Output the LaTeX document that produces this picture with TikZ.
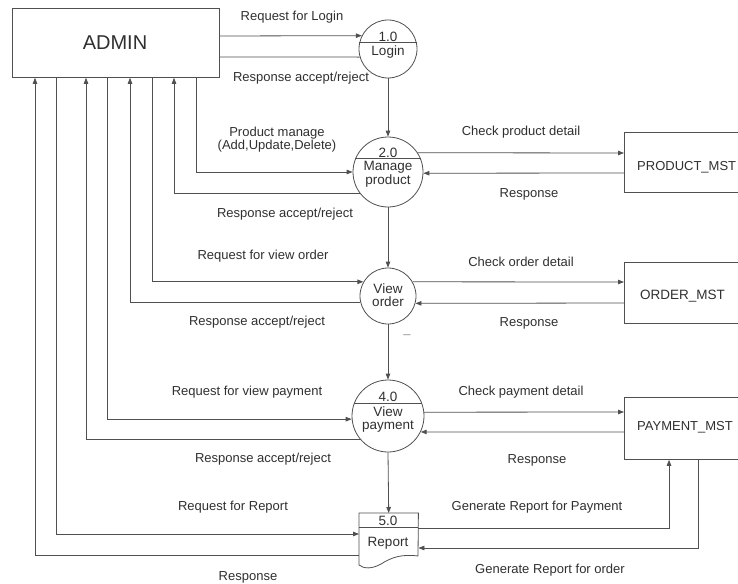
\documentclass[tikz,border=0pt]{standalone}
\usepackage{fontspec}
\setmainfont{Liberation Sans}
\usetikzlibrary{arrows.meta}
\definecolor{ln}{HTML}{505050}
\definecolor{tx}{HTML}{303030}
\tikzset{
  every node/.style={text=tx},
  flow/.style={draw=ln, line width=0.8pt},
  arr/.style={flow, -{Triangle[length=6pt,width=4.5pt]}},
  lbl/.style={font=\fontsize{13}{15}\selectfont, inner sep=0pt},
  ptext/.style={font=\fontsize{13.5}{15}\selectfont, inner sep=0pt},
  proc/.style={circle, draw=ln, line width=0.8pt, inner sep=0pt},
  store/.style={rectangle, draw=ln, line width=0.8pt, inner sep=0pt, anchor=north west},
}
\begin{document}
\begin{tikzpicture}[x=1pt,y=-1pt]
\useasboundingbox (0,0) rectangle (738,583);
\fill[white] (0,0) rectangle (738,583);
\clip (0,0) rectangle (738,583);

% external entity
\node[rectangle, draw=ln, line width=0.8pt, minimum width=207pt, minimum height=69pt, anchor=north west,
      font=\fontsize{20}{22}\selectfont] (admin) at (12,8) {};
\node[font=\fontsize{20}{22}\selectfont] (admint) at (115,43) {ADMIN};

% processes
\node[proc, minimum size=58pt] (L) at (388,49) {};
\node[proc, minimum size=70pt] (M) at (388,172) {};
\node[proc, minimum size=56pt] (O) at (388,296) {};
\node[proc, minimum size=72pt] (P) at (388,416) {};

\draw[flow] (L.168) -- (L.12);
\node[ptext] (Ln) at (388,37) {1.0};
\node[ptext] (Lt) at (388,52) {Login};

\draw[flow] (M.158) -- (M.22);
\node[ptext] (Mn) at (388,153) {2.0};
\node[ptext] (Mt1) at (388,167) {Manage};
\node[ptext] (Mt2) at (388,181) {product};

\node[ptext] (Ot1) at (388,289) {View};
\node[ptext] (Ot2) at (388,302) {order};

\draw[flow] (P.159) -- (P.21);
\node[ptext] (Pn) at (388,397) {4.0};
\node[ptext] (Pt1) at (388,412) {View};
\node[ptext] (Pt2) at (388,427) {payment};

% report (document shape)
\node[rectangle, minimum width=59pt, minimum height=54pt, inner sep=0pt, anchor=north west] (R) at (359,513) {};
\draw[flow] (R.north west) -- (R.north east) -- (418,556)
  .. controls (402,554) and (392,557) .. (381,564)
  .. controls (372,569) and (364,569) .. (359,565) -- cycle;
\draw[flow] (359,527) -- (418,527);
\node[ptext] (Rn) at (388,521) {5.0};
\node[ptext] (Rt) at (388,543) {Report};

% data stores
\node[store, minimum width=130pt, minimum height=60pt] (PM) at (624,132) {};
\node[lbl, anchor=west] (PMt) at (637,167) {PRODUCT\_MST};
\node[store, minimum width=130pt, minimum height=61pt] (OM) at (624,262) {};
\node[ptext, anchor=west] (OMt) at (640,296) {ORDER\_MST};
\node[store, minimum width=130pt, minimum height=62pt] (PY) at (624,397) {};
\node[lbl, anchor=west] (PYt) at (637,427) {PAYMENT\_MST};

% admin <-> login
\draw[arr] (admin.east |- 0,36) -- (L.153);
\draw[flow] (L.196) -- (admin.east |- 0,57);
\node[lbl] at (292,17) {Request for Login};
\node[lbl] at (301,78) {Response accept/reject};

% process chain
\draw[arr] (L.south) -- (M.north);
\draw[arr] (M.south) -- (O.north);
\draw[arr] (O.south) -- (P.north);
\draw[arr] (P.south) -- (R.north);

% admin <-> manage product
\draw[arr] (admin.south -| 196,0) |- (M.180);
\draw[arr] (M.217) -| (admin.south -| 174,0);
\node[lbl] at (277,133) {Product manage};
\node[lbl] at (277,146) {(Add,Update,Delete)};
\node[lbl] at (285,214) {Response accept/reject};

% admin <-> view order
\draw[arr] (admin.south -| 152,0) |- (O.150);
\draw[arr] (O.194) -| (admin.south -| 130,0);
\node[lbl] at (263,256) {Request for view order};
\node[lbl] at (257,322) {Response accept/reject};

% admin <-> view payment
\draw[arr] (admin.south -| 107,0) |- (P.185);
\draw[arr] (P.220) -| (admin.south -| 86,0);
\node[lbl] at (247,392) {Request for view payment};
\node[lbl] at (263,459) {Response accept/reject};

% admin <-> report
\draw[arr] (admin.south -| 56,0) |- (R.west |- 0,534);
\draw[arr] (R.west |- 0,555) -| (admin.south -| 35,0);
\node[lbl] at (233,507) {Request for Report};
\node[lbl] at (248,577) {Response};

% processes <-> data stores
\draw[arr] (M.33) -- (PM.west |- 0,153);
\draw[arr] (PM.west |- 0,173) -- (M.358);
\node[lbl] at (521,132) {Check product detail};
\node[lbl] at (529,194) {Response};

\draw[arr] (O.30) -- (OM.west |- 0,282);
\draw[arr] (OM.west |- 0,303) -- (O.345);
\node[lbl] at (521,262) {Check order detail};
\node[lbl] at (529,323) {Response};
\node[lbl, text=ln!60] at (407,337) {--};

\draw[arr] (P.6) -- (PY.west |- 0,412);
\draw[arr] (PY.west |- 0,432) -- (P.334);
\node[lbl] at (521,392) {Check payment detail};
\node[lbl] at (537,460) {Response};

% report <-> payment store
\draw[arr] (R.east |- 0,528) -| (PY.south -| 669,0);
\draw[arr] (PY.south -| 698,0) |- (R.east |- 0,548);
\node[lbl] at (537,507) {Generate Report for Payment};
\node[lbl] at (550,570) {Generate Report for order};
\end{tikzpicture}
\end{document}
